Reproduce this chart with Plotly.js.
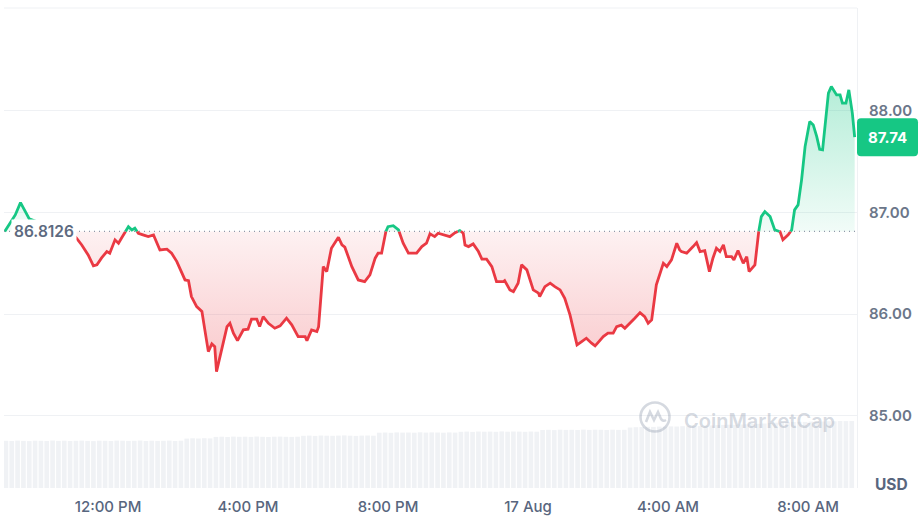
<!DOCTYPE html>
<html><head><meta charset="utf-8">
<script src="https://cdn.plot.ly/plotly-3.0.1.min.js"></script>
<style>html,body{margin:0;padding:0;background:#fff}#chart{width:922px;height:522px}</style>
</head><body><div id="chart"></div>
<script>
const baseline = 86.8126;
const lastPrice = 87.74;

const times = [
'2024-08-16 09:03','2024-08-16 09:21','2024-08-16 09:30','2024-08-16 09:45','2024-08-16 10:03','2024-08-16 10:15','2024-08-16 10:38','2024-08-16 10:55',
'2024-08-16 11:06','2024-08-16 11:15','2024-08-16 11:26','2024-08-16 11:35','2024-08-16 11:41','2024-08-16 11:49','2024-08-16 11:58','2024-08-16 12:03',
'2024-08-16 12:12','2024-08-16 12:18','2024-08-16 12:23','2024-08-16 12:35','2024-08-16 12:41','2024-08-16 12:46','2024-08-16 12:52','2024-08-16 13:00',
'2024-08-16 13:09','2024-08-16 13:18','2024-08-16 13:23','2024-08-16 13:29','2024-08-16 13:41','2024-08-16 13:49','2024-08-16 13:58','2024-08-16 14:06',
'2024-08-16 14:12','2024-08-16 14:18','2024-08-16 14:23','2024-08-16 14:32','2024-08-16 14:41','2024-08-16 14:46','2024-08-16 14:52','2024-08-16 14:58',
'2024-08-16 15:03','2024-08-16 15:06','2024-08-16 15:15','2024-08-16 15:24','2024-08-16 15:29','2024-08-16 15:35','2024-08-16 15:42','2024-08-16 15:52',
'2024-08-16 16:00','2024-08-16 16:06','2024-08-16 16:15','2024-08-16 16:20','2024-08-16 16:26','2024-08-16 16:35','2024-08-16 16:46','2024-08-16 16:55',
'2024-08-16 17:06','2024-08-16 17:15','2024-08-16 17:26','2024-08-16 17:38','2024-08-16 17:41','2024-08-16 17:49','2024-08-16 17:58','2024-08-16 18:01',
'2024-08-16 18:09','2024-08-16 18:15','2024-08-16 18:23','2024-08-16 18:35','2024-08-16 18:41','2024-08-16 18:46','2024-08-16 18:58','2024-08-16 19:09',
'2024-08-16 19:20','2024-08-16 19:29','2024-08-16 19:38','2024-08-16 19:43','2024-08-16 19:49','2024-08-16 19:55','2024-08-16 20:00','2024-08-16 20:09',
'2024-08-16 20:18','2024-08-16 20:26','2024-08-16 20:35','2024-08-16 20:49','2024-08-16 20:58','2024-08-16 21:06','2024-08-16 21:12','2024-08-16 21:20',
'2024-08-16 21:26','2024-08-16 21:38','2024-08-16 21:46','2024-08-16 21:55','2024-08-16 22:03','2024-08-16 22:09','2024-08-16 22:12','2024-08-16 22:18',
'2024-08-16 22:26','2024-08-16 22:35','2024-08-16 22:41','2024-08-16 22:49','2024-08-16 22:58','2024-08-16 23:06','2024-08-16 23:18','2024-08-16 23:20',
'2024-08-16 23:29','2024-08-16 23:35','2024-08-16 23:43','2024-08-16 23:49','2024-08-16 23:58','2024-08-17 00:09','2024-08-17 00:18','2024-08-17 00:20',
'2024-08-17 00:29','2024-08-17 00:38','2024-08-17 00:46','2024-08-17 00:55','2024-08-17 01:03','2024-08-17 01:12','2024-08-17 01:18','2024-08-17 01:24',
'2024-08-17 01:32','2024-08-17 01:40','2024-08-17 01:49','2024-08-17 01:55','2024-08-17 02:00','2024-08-17 02:09','2024-08-17 02:17','2024-08-17 02:26',
'2024-08-17 02:32','2024-08-17 02:40','2024-08-17 02:46','2024-08-17 02:55','2024-08-17 03:03','2024-08-17 03:12','2024-08-17 03:20','2024-08-17 03:26',
'2024-08-17 03:32','2024-08-17 03:40','2024-08-17 03:46','2024-08-17 03:52','2024-08-17 03:58','2024-08-17 04:06','2024-08-17 04:15','2024-08-17 04:20',
'2024-08-17 04:23','2024-08-17 04:32','2024-08-17 04:43','2024-08-17 04:49','2024-08-17 04:55','2024-08-17 05:03','2024-08-17 05:11','2024-08-17 05:17',
'2024-08-17 05:23','2024-08-17 05:29','2024-08-17 05:35','2024-08-17 05:40','2024-08-17 05:49','2024-08-17 05:53','2024-08-17 06:00','2024-08-17 06:06',
'2024-08-17 06:09','2024-08-17 06:15','2024-08-17 06:19','2024-08-17 06:29','2024-08-17 06:35','2024-08-17 06:40','2024-08-17 06:46','2024-08-17 06:55',
'2024-08-17 07:03','2024-08-17 07:12','2024-08-17 07:17','2024-08-17 07:26','2024-08-17 07:32','2024-08-17 07:37','2024-08-17 07:43','2024-08-17 07:49',
'2024-08-17 07:55','2024-08-17 08:03','2024-08-17 08:09','2024-08-17 08:15','2024-08-17 08:20','2024-08-17 08:25','2024-08-17 08:29','2024-08-17 08:35',
'2024-08-17 08:40','2024-08-17 08:49','2024-08-17 08:55','2024-08-17 08:59','2024-08-17 09:05','2024-08-17 09:10','2024-08-17 09:16','2024-08-17 09:20'
];

const prices = [
86.813,86.975,87.096,86.936,86.897,86.890,86.850,86.810,
86.746,86.680,86.582,86.474,86.484,86.553,86.615,86.599,
86.730,86.697,86.746,86.860,86.828,86.845,86.795,86.779,
86.762,86.779,86.713,86.631,86.638,86.599,86.516,86.418,
86.336,86.329,86.172,86.074,86.025,85.845,85.631,85.707,
85.680,85.435,85.648,85.877,85.910,85.812,85.739,85.845,
85.852,85.950,85.950,85.877,85.975,85.910,85.861,85.884,
85.960,85.894,85.779,85.779,85.739,85.845,85.828,85.877,
86.467,86.418,86.648,86.756,86.680,86.658,86.467,86.336,
86.320,86.385,86.550,86.599,86.599,86.795,86.860,86.870,
86.828,86.697,86.599,86.599,86.664,86.697,86.789,86.762,
86.795,86.779,86.762,86.801,86.821,86.795,86.680,86.664,
86.690,86.615,86.540,86.540,86.467,86.320,86.320,86.329,
86.238,86.221,86.304,86.484,86.435,86.238,86.206,86.172,
86.270,86.304,86.270,86.238,86.156,85.992,85.845,85.697,
85.730,85.763,85.714,85.687,85.720,85.779,85.812,85.812,
85.877,85.891,85.861,85.910,85.960,86.015,85.975,85.910,
85.943,86.287,86.385,86.500,86.467,86.533,86.697,86.631,
86.615,86.599,86.664,86.703,86.615,86.624,86.418,86.550,
86.648,86.615,86.680,86.565,86.565,86.533,86.624,86.550,
86.500,86.565,86.418,86.484,86.795,86.959,87.008,86.959,
86.828,86.811,86.730,86.779,86.828,87.025,87.074,87.320,
87.647,87.893,87.860,87.745,87.621,87.615,87.844,88.172,
88.237,88.155,88.155,88.074,88.074,88.205,87.976,87.740
];

// volume (arbitrary units), one bar every 10 minutes starting 09:05
const volStart = '2024-08-16 09:05';
const volStepMinutes = 10;
const volumes = [
47.2,47.0,47.4,47.1,46.9,47.3,47.2,47.0,47.5,47.1,47.3,47.0,47.2,47.4,47.1,46.9,47.3,47.2,47.0,47.4,47.3,47.1,47.2,47.5,47.0,47.3,47.1,47.2,47.4,47.0,47.3,
49.4,49.7,49.5,49.8,49.6,
51.1,51.3,51.0,51.4,51.2,51.3,51.1,51.5,51.2,51.0,51.3,51.4,51.2,51.1,51.3,
52.2,52.4,52.1,52.5,52.3,52.2,52.4,52.6,52.3,52.1,52.4,52.5,52.3,
55.3,55.5,55.2,55.6,55.4,55.5,55.3,55.7,55.4,55.6,55.5,55.3,55.6,55.4,
56.2,56.4,56.1,56.5,56.3,56.4,56.2,56.6,56.3,56.5,56.4,56.2,56.5,56.3,
58.0,58.2,57.9,58.3,58.1,58.2,58.0,58.4,58.1,58.3,58.2,58.0,58.3,58.1,58.2,
60.5,60.8,61.0,61.2,61.1,61.4,61.3,61.6,61.5,61.8,61.7,62.0,61.9,62.2,
62.6,62.9,63.1,63.3,63.2,63.5,63.7,63.9,64.2,64.5,
65.0,65.3,65.5,65.8,66.0,66.2,66.1,66.4,66.6,66.5,66.8,66.7,67.0,66.9,67.0
];

const tickTimes = ['2024-08-16 12:00','2024-08-16 16:00','2024-08-16 20:00','2024-08-17 00:00','2024-08-17 04:00','2024-08-17 08:00'];
const tickLabels = ['12:00 PM','4:00 PM','8:00 PM','17 Aug','4:00 AM','8:00 AM'];
const priceTicks = [85, 86, 87, 88];
const priceTickLabels = ['85.00','86.00','87.00','88.00'];

const xRange = ['2024-08-16 09:01:42', '2024-08-17 09:24:00'];
const yRange = [84.29, 89.01];

const GREEN = '#16c784', RED = '#ea3943';
const FONT = 'Inter, "Noto Sans", sans-serif';

function toMs(s){
  const [d,t] = s.split(' ');
  const [Y,M,D] = d.split('-').map(Number);
  const tp = t.split(':').map(Number);
  return Date.UTC(Y, M-1, D, tp[0], tp[1], tp[2]||0);
}

// merge points with baseline crossings
const X = [], Y = [];
const tms = times.map(toMs);
for (let i = 0; i < prices.length; i++) {
  X.push(tms[i]); Y.push(prices[i]);
  if (i < prices.length - 1) {
    const a = prices[i] - baseline, b = prices[i+1] - baseline;
    if (a * b < 0) {
      const f = a / (a - b);
      X.push(tms[i] + f * (tms[i+1] - tms[i]));
      Y.push(baseline);
    }
  }
}
const greenLine = Y.map(v => v >= baseline ? v : null);
const redLine = Y.map(v => v <= baseline ? v : null);
const greenFill = Y.map(v => Math.max(v, baseline));
const redFill = Y.map(v => Math.min(v, baseline));
const baseArr = Y.map(() => baseline);

const volX = [];
const v0 = toMs(volStart);
for (let i = 0; i < volumes.length; i++) volX.push(v0 + i * volStepMinutes * 60000);

const traces = [
  {type:'bar', x: volX, y: volumes, yaxis:'y2', marker:{color:'#f0f2f5', line:{width:0}}, hoverinfo:'skip', showlegend:false},
  {type:'scatter', mode:'lines', x: X, y: baseArr, line:{width:0, color:'rgba(0,0,0,0)'}, hoverinfo:'skip', showlegend:false},
  {type:'scatter', mode:'lines', x: X, y: greenFill, fill:'tonexty', line:{width:0, color:'rgba(0,0,0,0)'},
   fillgradient:{type:'vertical', start: baseline, stop: 88.25, colorscale:[[0,'rgba(22,199,132,0.06)'],[1,'rgba(22,199,132,0.32)']]},
   hoverinfo:'skip', showlegend:false},
  {type:'scatter', mode:'lines', x: X, y: baseArr, line:{width:0, color:'rgba(0,0,0,0)'}, hoverinfo:'skip', showlegend:false},
  {type:'scatter', mode:'lines', x: X, y: redFill, fill:'tonexty', line:{width:0, color:'rgba(0,0,0,0)'},
   fillgradient:{type:'vertical', start: 85.4, stop: baseline, colorscale:[[0,'rgba(234,57,67,0.28)'],[1,'rgba(234,57,67,0.07)']]},
   hoverinfo:'skip', showlegend:false},
  {type:'scatter', mode:'lines', x: X, y: greenLine, line:{color: GREEN, width: 2.8}, hoverinfo:'skip', showlegend:false},
  {type:'scatter', mode:'lines', x: X, y: redLine, line:{color: RED, width: 2.8}, hoverinfo:'skip', showlegend:false}
];

const plotL = 4, plotR = 857, plotT = 8, plotB = 488;
const pw = plotR - plotL, ph = plotB - plotT;
const px2paperX = p => (p - plotL) / pw;
const px2paperY = p => (plotB - p) / ph;
const lastPaperY = (lastPrice - yRange[0]) / (yRange[1] - yRange[0]);
const WM = 'rgba(150,160,178,0.40)';

const layout = {
  width: 922, height: 522,
  margin: {l: plotL, r: 922 - plotR, t: plotT, b: 522 - plotB, pad: 0},
  paper_bgcolor: '#fff', plot_bgcolor: '#fff',
  showlegend: false,
  bargap: 0.2,
  font: {family: FONT, color: '#58667e'},
  xaxis: {
    type: 'date', range: xRange, tickvals: tickTimes, ticktext: tickLabels,
    showgrid: false, zeroline: false, showline: false, ticks: '', ticklabelstandoff: 8,
    tickfont: {family: FONT, size: 15, color: '#58667e', weight: 500}, fixedrange: true
  },
  yaxis: {
    side: 'right', range: yRange, tickvals: priceTicks, ticktext: priceTickLabels,
    showgrid: true, gridcolor: '#eff1f4', gridwidth: 1, zeroline: false,
    showline: true, linecolor: '#eff1f4', linewidth: 1, ticks: '', ticklabelstandoff: 8,
    tickfont: {family: FONT, size: 15, color: '#6b7689', weight: 600}, fixedrange: true
  },
  yaxis2: {overlaying: 'y', range: [0, 480], visible: false, fixedrange: true},
  shapes: [
    {type:'line', xref:'paper', yref:'paper', x0:0, x1:1, y0:1, y1:1, line:{color:'#eff1f4', width:1}},
    {type:'line', xref:'paper', yref:'y', x0:0, x1:1, y0: baseline, y1: baseline, layer:'above',
     line:{color:'#8f98a8', width:1.3, dash:'1px,4px'}},
    {type:'path', xref:'paper', yref:'paper', xsizemode:'pixel', ysizemode:'pixel', xanchor: 1, yanchor: lastPaperY,
     path:'M 4,-19 L 57,-19 Q 61,-19 61,-15 L 61,15 Q 61,19 57,19 L 4,19 Q 0,19 0,15 L 0,-15 Q 0,-19 4,-19 Z',
     fillcolor: GREEN, line:{width:0}},
    {type:'circle', xref:'paper', yref:'paper', xsizemode:'pixel', ysizemode:'pixel',
     xanchor: px2paperX(655), yanchor: px2paperY(417), x0:-14.5, x1:14.5, y0:-14.5, y1:14.5,
     line:{color: WM, width: 2.6}},
    {type:'path', xref:'paper', yref:'paper', xsizemode:'pixel', ysizemode:'pixel',
     xanchor: px2paperX(655), yanchor: px2paperY(417),
     path:'M -9,-5 L -5,5 L -1,-3 L 3,5 L 6,-2 Q 8,-5 11,-3',
     line:{color: WM, width: 2.6}}
  ],
  annotations: [
    {xref:'paper', yref:'y', x: px2paperX(11), y: baseline, xanchor:'left', yanchor:'middle',
     text:'86.8126', showarrow:false, bgcolor:'#ffffff', borderpad:2,
     font:{family: FONT, size: 15.5, color:'#5d6a80', weight: 600}},
    {xref:'paper', yref:'paper', x: px2paperX(887.5), y: lastPaperY, xanchor:'center', yanchor:'middle',
     text:'87.74', showarrow:false, font:{family: FONT, size: 15, color:'#ffffff', weight: 700}},
    {xref:'paper', yref:'paper', x: px2paperX(910), y: px2paperY(484), xanchor:'right', yanchor:'middle',
     text:'USD', showarrow:false, font:{family: FONT, size: 15.5, color:'#58667e', weight: 700}},
    {xref:'paper', yref:'paper', x: px2paperX(759.5), y: px2paperY(421), xanchor:'center', yanchor:'middle',
     text:'CoinMarketCap', showarrow:false, font:{family: FONT, size: 20, color: WM, weight: 600}}
  ]
};

Plotly.newPlot('chart', traces, layout, {staticPlot: true, displayModeBar: false});
</script>
</body></html>
